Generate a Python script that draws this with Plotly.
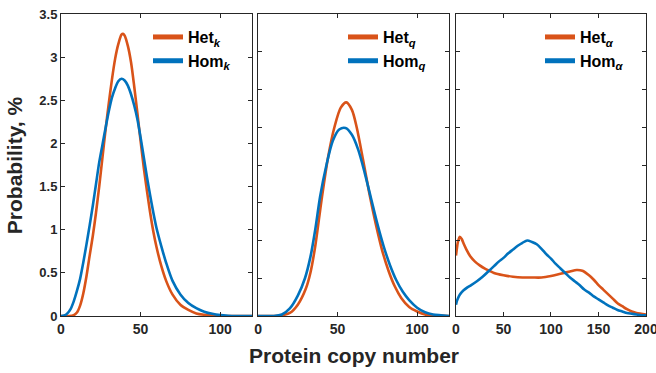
import plotly.graph_objects as go

# ---------------- data ----------------
# Panel 1 : k
k_het_x = [0, 5, 8, 10, 12, 14, 16, 18, 20, 22, 24, 26, 28, 30, 32, 34, 36, 38, 39, 40, 42, 44, 46, 48,
           50, 52, 54, 56, 58, 60, 63, 66, 70, 75, 80, 85, 90, 100, 110, 120]
k_het_y = [0, 0, 0.01, 0.04, 0.12, 0.26, 0.46, 0.7, 0.93, 1.2, 1.5, 1.83, 2.16, 2.46, 2.74, 2.98, 3.15, 3.26, 3.27, 3.25,
           3.13, 2.94, 2.66, 2.35, 2.03, 1.72, 1.45, 1.2, 0.98, 0.8, 0.58, 0.41, 0.25, 0.13, 0.07, 0.03, 0.015, 0, 0, 0]
k_hom_x = [0, 2, 4, 6, 8, 10, 12, 14, 16, 18, 20, 22, 24, 26, 28, 30, 32, 34, 36, 38, 40, 42, 44, 46, 48,
           50, 52, 54, 56, 58, 60, 63, 66, 70, 75, 80, 85, 90, 95, 100, 105, 110, 120]
k_hom_y = [0, 0.005, 0.03, 0.08, 0.17, 0.29, 0.43, 0.62, 0.83, 1.05, 1.28, 1.53, 1.78, 1.98, 2.18, 2.37, 2.53, 2.64,
           2.72, 2.75, 2.73, 2.67, 2.57, 2.44, 2.28, 2.07, 1.84, 1.61, 1.4, 1.2, 1.02, 0.81, 0.62, 0.41, 0.25, 0.15,
           0.09, 0.05, 0.025, 0.01, 0.003, 0, 0]

# Panel 2 : q
q_het_x = [0, 10, 15, 20, 25, 30, 33, 36, 40, 44, 48, 52, 55.5, 59, 62, 66, 70, 74, 78, 82, 86, 90, 95,
           100, 105, 110, 120]
q_het_y = [0, 0, 0.01, 0.04, 0.15, 0.36, 0.58, 0.93, 1.55, 2.1, 2.5, 2.76, 2.83, 2.73, 2.5, 2.07, 1.62, 1.22,
           0.87, 0.6, 0.39, 0.24, 0.12, 0.06, 0.02, 0.01, 0]
q_hom_x = [0, 10, 15, 20, 25, 29.5, 33, 36, 39, 43, 47, 51, 55, 59, 63, 67, 71, 75, 79, 83, 87, 91, 95,
           100, 105, 110, 115, 120]
q_hom_y = [0, 0, 0.02, 0.1, 0.27, 0.5, 0.79, 1.15, 1.58, 2.0, 2.32, 2.47, 2.49, 2.4, 2.2, 1.9, 1.56, 1.22,
           0.92, 0.67, 0.47, 0.32, 0.21, 0.11, 0.05, 0.02, 0.01, 0]

# Panel 3 : alpha
a_het_x = [0, 1, 2, 4, 6, 8, 11, 15, 20, 25, 30, 35, 40, 50, 60, 70, 80, 90, 100, 110, 120, 127, 133,
           140, 145, 150, 155, 160, 165, 170, 175, 180, 185, 190, 195, 200]
a_het_y = [0.8, 0.9, 0.98, 1.05, 1.02, 0.96, 0.88, 0.79, 0.72, 0.67, 0.63, 0.6, 0.57, 0.54, 0.52, 0.51, 0.51,
           0.51, 0.53, 0.56, 0.59, 0.61, 0.6, 0.54, 0.48, 0.41, 0.35, 0.29, 0.23, 0.17, 0.13, 0.09, 0.06,
           0.04, 0.03, 0.02]
a_hom_x = [0, 1, 3, 5, 8, 12, 16, 22, 28, 34, 40, 45, 50, 55, 60, 65, 70, 75, 80, 85, 90, 95, 100, 105,
           110, 115, 120, 125, 130, 135, 140, 145, 150, 155, 160, 165, 170, 175, 180, 185, 190, 195, 200]
a_hom_y = [0.15, 0.2, 0.26, 0.3, 0.34, 0.38, 0.41, 0.46, 0.52, 0.59, 0.66, 0.72, 0.77, 0.83, 0.88, 0.93,
           0.97, 1.0, 0.98, 0.95, 0.89, 0.82, 0.76, 0.69, 0.63, 0.57, 0.51, 0.46, 0.41, 0.35, 0.31, 0.26,
           0.22, 0.18, 0.14, 0.11, 0.08, 0.06, 0.04, 0.03, 0.02, 0.01, 0.01]

panel_names = [("Het<sub><i>k</i></sub>", "Hom<sub><i>k</i></sub>"),
               ("Het<sub><i>q</i></sub>", "Hom<sub><i>q</i></sub>"),
               ("Het<sub><i>α</i></sub>", "Hom<sub><i>α</i></sub>")]
x_ranges = [[0, 120], [0, 120], [0, 200]]
x_ticks = [[0, 50, 100], [0, 50, 100], [0, 50, 100, 150, 200]]
y_ranges = [[0, 3.5], [0, 4], [0, 4]]
y_tick_labels = ["0", "0.5", "1", "1.5", "2", "2.5", "3", "3.5"]
y_tick_vals = [0, 0.5, 1, 1.5, 2, 2.5, 3, 3.5]

ORANGE = "#D95319"
BLUE = "#0072BD"
AXC = "#262626"
FONT = "Liberation Sans"

series = [(k_het_x, k_het_y, k_hom_x, k_hom_y),
          (q_het_x, q_het_y, q_hom_x, q_hom_y),
          (a_het_x, a_het_y, a_hom_x, a_hom_y)]

domains = [[0.0, 0.3265], [0.3368, 0.6632], [0.6752, 1.0]]
legend_pos = [(148 - 61) / 585, (343 - 61) / 585, (540 - 61) / 585]

fig = go.Figure()
for i, (hx, hy, mx, my) in enumerate(series):
    xa = "x" if i == 0 else f"x{i+1}"
    ya = "y" if i == 0 else f"y{i+1}"
    lg = "legend" if i == 0 else f"legend{i+1}"
    fig.add_trace(go.Scatter(x=hx, y=hy, mode="lines", name=panel_names[i][0],
                             line=dict(color=ORANGE, width=2.6, shape="spline", smoothing=0.8),
                             xaxis=xa, yaxis=ya, legend=lg, cliponaxis=True))
    fig.add_trace(go.Scatter(x=mx, y=my, mode="lines", name=panel_names[i][1],
                             line=dict(color=BLUE, width=2.6, shape="spline", smoothing=0.8),
                             xaxis=xa, yaxis=ya, legend=lg, cliponaxis=True))

layout = dict(
    width=656, height=373, autosize=False,
    margin=dict(l=61, r=10, t=14, b=57, autoexpand=False),
    paper_bgcolor="white", plot_bgcolor="white",
    font=dict(family=FONT, color=AXC, size=13),
    showlegend=True,
)
for i in range(3):
    sx = "" if i == 0 else str(i + 1)
    layout["xaxis" + sx] = dict(
        domain=domains[i], range=x_ranges[i], tickvals=x_ticks[i],
        ticktext=[str(v) for v in x_ticks[i]],
        showline=True, linecolor=AXC, linewidth=1, mirror="ticks",
        ticks="inside", ticklen=4, tickcolor=AXC, tickwidth=1,
        showgrid=False, zeroline=False, anchor="y" + sx if i else "y",
        ticklabeloverflow="allow", automargin=False,
        tickfont=dict(family=FONT, size=14, color=AXC, weight="bold"),
    )
    layout["yaxis" + sx] = dict(
        domain=[0, 1], range=y_ranges[i],
        tickvals=[v for v in y_tick_vals + ([4] if i else []) if v <= y_ranges[i][1]],
        ticktext=(y_tick_labels if i == 0 else None),
        showticklabels=(i == 0),
        showline=True, linecolor=AXC, linewidth=1, mirror="ticks",
        ticks="inside", ticklen=4, tickcolor=AXC, tickwidth=1,
        showgrid=False, zeroline=False, anchor="x" + sx if i else "x",
        automargin=False,
        tickfont=dict(family=FONT, size=13, color=AXC, weight="bold"),
    )
    lg = "legend" if i == 0 else f"legend{i+1}"
    layout[lg] = dict(
        x=legend_pos[i], y=0.98, xanchor="left", yanchor="top",
        bgcolor="rgba(0,0,0,0)", borderwidth=0,
        font=dict(family=FONT, size=16, color="#000000", weight="bold"),
        tracegroupgap=0, itemsizing="constant",
    )

fig.update_layout(**layout)

fig.add_annotation(text="<b>Probability, %</b>", xref="paper", yref="paper",
                   x=-0.08, y=0.5, textangle=-90, showarrow=False,
                   font=dict(family=FONT, size=21, color=AXC), xanchor="center", yanchor="middle")
fig.add_annotation(text="<b>Protein copy number</b>", xref="paper", yref="paper",
                   x=0.5, y=-0.13, showarrow=False,
                   font=dict(family=FONT, size=21, color=AXC), xanchor="center", yanchor="middle")

fig.write_html("out.html",
               config={"displayModeBar": False, "responsive": False},
               post_script=("document.documentElement.style.overflow='hidden';"
                            "document.body.style.overflow='hidden';"
                            "document.body.style.margin='0';document.body.style.padding='0';"))
